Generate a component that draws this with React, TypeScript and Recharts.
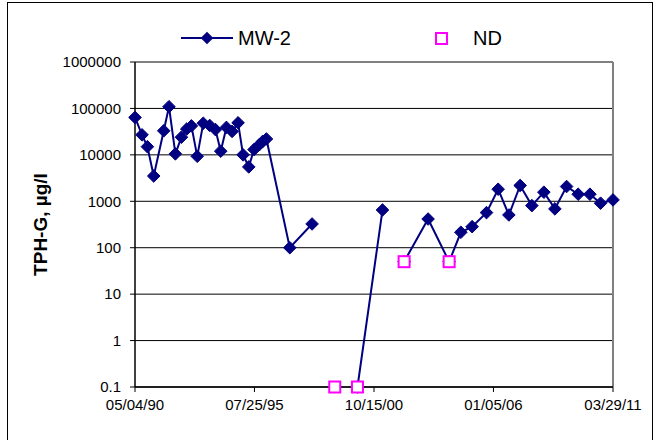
import React from "react";
import {
  ComposedChart,
  Line,
  XAxis,
  YAxis,
  CartesianGrid,
  ReferenceLine,
} from "recharts";

const sampleDates = [
  "1990-05-04", "1990-08-24", "1990-11-18", "1991-02-27", "1991-08-06",
  "1991-10-29", "1992-02-08", "1992-05-14", "1992-08-07", "1992-10-21",
  "1993-01-22", "1993-04-28", "1993-08-09", "1993-11-09", "1994-02-01",
  "1994-05-03", "1994-08-01", "1994-11-05", "1995-01-24", "1995-04-25",
  "1995-07-18", "1995-10-09", "1995-12-04", "1996-02-01", "1997-02-08",
  "1998-01-30", "1999-01-27", "2000-01-25", "2001-02-28", "2001-08-15",
  "2002-02-08", "2003-02-26", "2004-01-28", "2004-08-02", "2005-01-29",
  "2005-09-16", "2006-03-21", "2006-09-08", "2007-03-07", "2007-09-10",
  "2008-03-20", "2008-09-12", "2009-03-18", "2009-09-19", "2010-03-25",
  "2010-09-12", "2011-03-29",
];

// MW-2 detected values (µg/l); null = no line point
const mw2Values: (number | null)[] = [
  64000, 27000, 15000, 3500, 33000,
  109000, 10500, 24000, 36000, 42000,
  9300, 48000, 43000, 35000, 12000,
  39000, 32000, 49000, 10000, 5500,
  13000, 16500, 19500, 22000, 100,
  325, null, 0.1, 650, null,
  50, 415, 50, 215, 284,
  570, 1820, 508, 2190, 807,
  1570, 686, 2080, 1420, 1420,
  910, 1070,
];

// Non-detect values (plotted at reporting limit)
const ndValues: (number | null)[] = [
  null, null, null, null, null,
  null, null, null, null, null,
  null, null, null, null, null,
  null, null, null, null, null,
  null, null, null, null, null,
  null, 0.1, 0.1, null, null,
  50, null, 50, null, null,
  null, null, null, null, null,
  null, null, null, null, null,
  null, null,
];

const xTickDates = ["1990-05-04", "1995-07-25", "2000-10-15", "2006-01-05", "2011-03-29"];
const yTicks = [0.1, 1, 10, 100, 1000, 10000, 100000, 1000000];

const toTime = (s: string) => {
  const [y, m, d] = s.split("-").map(Number);
  return Date.UTC(y, m - 1, d);
};

const data = sampleDates.map((d, i) => ({
  t: toTime(d),
  mw2: mw2Values[i],
  nd: ndValues[i],
}));

const xTicks = xTickDates.map(toTime);
const xMin = xTicks[0];
const xMax = xTicks[xTicks.length - 1];

const pad = (n: number) => (n < 10 ? "0" + n : "" + n);
const fmtDate = (v: number) => {
  const dt = new Date(v);
  return (
    pad(dt.getUTCMonth() + 1) + "/" + pad(dt.getUTCDate()) + "/" + pad(dt.getUTCFullYear() % 100)
  );
};
const fmtY = (v: number) => (v < 1 ? String(v) : String(Math.round(v)));

const NAVY = "#000080";
const MAGENTA = "#FF00FF";
const FONT = "'Liberation Sans', Arial, sans-serif";

const Diamond = (props: any) => {
  const { cx, cy, index, value } = props;
  if (cx == null || cy == null || value == null) return <g key={"d" + index} />;
  const r = 6.3;
  return (
    <polygon
      key={"d" + index}
      points={`${cx},${cy - r} ${cx + r},${cy} ${cx},${cy + r} ${cx - r},${cy}`}
      fill={NAVY}
      stroke={NAVY}
      strokeWidth={1}
    />
  );
};

const Square = (props: any) => {
  const { cx, cy, index, value } = props;
  if (cx == null || cy == null || value == null) return <g key={"s" + index} />;
  const h = 5.5;
  return (
    <rect
      key={"s" + index}
      x={cx - h}
      y={cy - h}
      width={h * 2}
      height={h * 2}
      fill="#FFFFFF"
      stroke={MAGENTA}
      strokeWidth={2}
    />
  );
};

export default function App() {
  return (
    <div style={{ position: "absolute", left: 0, top: 0, width: 663, height: 440, background: "#fff", overflow: "hidden" }}>
      <div
        style={{
          position: "absolute",
          left: 7,
          top: 2,
          width: 646,
          height: 460,
          border: "1px solid #000",
          boxSizing: "border-box",
        }}
      />
      <svg
        width={663}
        height={60}
        style={{ position: "absolute", left: 0, top: 0 }}
        fontFamily={FONT}
      >
        <line x1={181} y1={38} x2={233} y2={38} stroke={NAVY} strokeWidth={2} />
        <polygon points="207,31.7 213.3,38 207,44.3 200.7,38" fill={NAVY} />
        <text x={238} y={45} fontSize={20} fill="#000">MW-2</text>
        <rect x={436} y={33} width={11} height={11} fill="#fff" stroke={MAGENTA} strokeWidth={2} />
        <text x={473} y={45} fontSize={20} fill="#000">ND</text>
      </svg>
      <div style={{ position: "absolute", left: 0, top: 0 }}>
        <ComposedChart
          width={663}
          height={440}
          data={data}
          margin={{ top: 62, right: 50, bottom: 0, left: 0 }}
        >
          <CartesianGrid horizontal={true} vertical={false} stroke="#000" strokeWidth={1} />
          <ReferenceLine y={1000000} stroke="#808080" strokeWidth={2} />
          <ReferenceLine x={xMax} stroke="#808080" strokeWidth={2} />
          <XAxis
            dataKey="t"
            type="number"
            domain={[xMin, xMax]}
            ticks={xTicks}
            tickFormatter={fmtDate}
            height={53}
            tickSize={5}
            tickMargin={7}
            axisLine={{ stroke: "#000", strokeWidth: 1.5 }}
            tickLine={{ stroke: "#000" }}
            tick={{ fill: "#000", fontSize: 15, fontFamily: FONT }}
            interval={0}
          />
          <YAxis
            scale="log"
            domain={[0.1, 1000000]}
            ticks={yTicks}
            tickFormatter={fmtY}
            width={135}
            tickSize={5}
            tickMargin={9}
            axisLine={{ stroke: "#000", strokeWidth: 1.5 }}
            tickLine={{ stroke: "#000" }}
            interval={0}
            tick={{ fill: "#000", fontSize: 15, fontFamily: FONT }}
            label={{
              value: "TPH-G, µg/l",
              angle: -90,
              position: "insideLeft",
              offset: 40,
              style: { textAnchor: "middle", fontWeight: "bold", fontSize: 19, fontFamily: FONT, fill: "#000" },
            }}
          />
          <Line
            dataKey="mw2"
            stroke={NAVY}
            strokeWidth={2}
            dot={Diamond}
            activeDot={false}
            connectNulls={false}
            isAnimationActive={false}
          />
          <Line
            dataKey="nd"
            stroke="none"
            dot={Square}
            activeDot={false}
            connectNulls={false}
            isAnimationActive={false}
          />
        </ComposedChart>
      </div>
    </div>
  );
}
